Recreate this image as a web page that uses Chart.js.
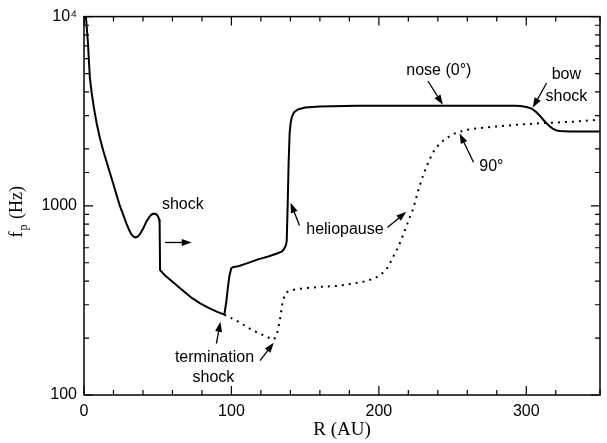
<!DOCTYPE html>
<html><head><meta charset="utf-8">
<script src="https://cdn.jsdelivr.net/npm/chart.js@4"></script>
<style>html,body{margin:0;padding:0;background:#fff}</style>
</head><body>
<canvas id="c" width="607" height="443"></canvas>
<script>
// ---- data (R in AU, f_p in Hz) ----
const noseR = [1.3, 2.0, 2.7, 3.3, 4.0, 5.2, 6.7, 8.5, 10.7, 13.0, 15.4, 17.5, 19.5, 21.8, 24.1, 26.5, 28.8, 30.6, 32.2, 33.6, 34.9,
  36.5, 38.2, 40.2, 42.3, 44.0, 45.6, 47.0, 48.3, 49.4, 50.3, 51.0, 51.3, 51.6,
  55.0, 61.0, 67.0, 73.1, 78.8, 84.5, 90.0, 95.2, 96.6, 97.6, 98.6, 99.9, 101.5, 104.6, 111.0, 118.0, 125.0, 131.4, 134.0, 135.5, 136.8, 137.5, 138.2, 138.8, 139.5,
  140.2, 141.0, 142.5, 145.0, 150.0, 160.0, 185.1, 240, 292.4, 296.0, 299.1, 301.5, 303.8, 306.5, 309.2, 311.5, 313.9, 315.9, 317.9, 320.0, 322.6, 329.3, 350];
const noseF = [10000, 8500, 7220, 5900, 4735, 3950, 3300, 2750, 2297, 1960, 1700, 1500, 1336, 1160, 1012, 900, 805, 745, 705, 688, 680,
  688, 713, 760, 825, 865, 897, 908, 908, 898, 876, 845, 805, 457,
  428, 391, 357, 326, 305, 289, 276, 266, 314, 370, 425, 468, 475, 479, 498, 521, 540, 561, 572, 588, 615, 648, 1049, 1700, 2440,
  2750, 2950, 3120, 3230, 3310, 3345, 3379, 3379, 3379, 3365, 3340, 3305, 3259, 3140, 2995, 2850, 2721, 2630, 2560, 2510, 2485, 2471, 2471];
const deg90R = [95.2, 104.6, 114.7, 123.4, 128.1, 129.5, 130.8, 132.8, 134.8, 136.8, 139.0, 141.5, 146.0, 151.6, 161.0, 171.7, 181.0, 191.8, 198.5,
  202.0, 205.2, 207.6, 209.9, 211.9, 213.9, 216.2, 218.6, 220.9, 223.3, 225.3, 227.4, 229.7, 232.1, 234.4, 236.8, 239.4, 242.1, 245.4, 248.8, 252.0, 255.5, 260.0, 265.6, 272.0, 279.0, 292.0, 305.8, 320.0, 332.7, 350];
const deg90F = [266, 244, 219, 204, 196, 200, 209, 247, 314, 346, 355, 359, 364, 368, 373, 377, 386, 400, 420,
  438, 462, 498, 541, 580, 625, 695, 776, 865, 964, 1100, 1257, 1420, 1600, 1760, 1918, 2050, 2163, 2260, 2353, 2420, 2471, 2520, 2560, 2595, 2624, 2675, 2721, 2755, 2786, 2854];
const xTickLabels = [0, 100, 200, 300];
const yTickLabels = [100, 1000, 10000];

// annotation texts and arrows (placed in data units)
const labelTexts = ['shock', 'termination', 'shock', 'heliopause', '90°', 'nose (0°)', 'bow', 'shock'];
const labelR = [67.0, 88.5, 87.8, 177.0, 276.3, 240.7, 327.2, 327.2];
const labelF = [1012, 158, 123, 749, 1619, 5214, 4911, 3767];
const arrowFromR = [55.0, 89.8, 119.4, 146.2, 205.8, 264.2, 233.3, 313.8];
const arrowFromF = [640, 187, 152, 786, 767, 1700, 4567, 4460];
const arrowToR = [73.1, 92.5, 128.7, 140.1, 218.6, 254.8, 243.4, 304.4];
const arrowToF = [640, 244, 189, 1037, 930, 2411, 3420, 3300];

const toPts = (xs, ys) => xs.map((x, i) => ({x: x, y: ys[i]}));

const SANS = '"Liberation Sans", Arial, sans-serif';
const SERIF = '"Liberation Serif", "Times New Roman", serif';

function arrow(ctx, x1, y1, x2, y2) {
  const ang = Math.atan2(y2 - y1, x2 - x1);
  const hl = 10, hw = 3.5;
  ctx.beginPath();
  ctx.moveTo(x1, y1);
  ctx.lineTo(x2 - Math.cos(ang) * hl * 0.8, y2 - Math.sin(ang) * hl * 0.8);
  ctx.lineWidth = 1.3;
  ctx.stroke();
  ctx.beginPath();
  ctx.moveTo(x2, y2);
  ctx.lineTo(x2 - Math.cos(ang) * hl - Math.sin(ang) * hw, y2 - Math.sin(ang) * hl + Math.cos(ang) * hw);
  ctx.lineTo(x2 - Math.cos(ang) * hl + Math.sin(ang) * hw, y2 - Math.sin(ang) * hl - Math.cos(ang) * hw);
  ctx.closePath();
  ctx.fill();
}

const decor = {
  id: 'decor',
  afterDraw(chart) {
    const ctx = chart.ctx, a = chart.chartArea;
    const xs = chart.scales.x, ys = chart.scales.y;
    ctx.save();
    ctx.strokeStyle = '#000'; ctx.fillStyle = '#000';
    // frame
    ctx.lineWidth = 1.5;
    ctx.strokeRect(a.left, a.top, a.right - a.left, a.bottom - a.top);
    // x ticks (inward, bottom and top)
    ctx.lineWidth = 1.2;
    xs.ticks.forEach(t => {
      if (t.value > 350) return;
      const px = xs.getPixelForValue(t.value);
      const L = (t.value % 100 === 0) ? 9 : 5;
      ctx.beginPath();
      ctx.moveTo(px, a.bottom); ctx.lineTo(px, a.bottom - L);
      ctx.moveTo(px, a.top); ctx.lineTo(px, a.top + L);
      ctx.stroke();
    });
    // y ticks (inward, left and right)
    ys.ticks.forEach(t => {
      const v = t.value;
      const py = ys.getPixelForValue(v);
      const major = yTickLabels.includes(v);
      const L = major ? 9 : 5;
      ctx.beginPath();
      ctx.moveTo(a.left, py); ctx.lineTo(a.left + L, py);
      ctx.moveTo(a.right, py); ctx.lineTo(a.right - L, py);
      ctx.stroke();
    });
    // annotation texts
    ctx.font = '16px ' + SANS;
    ctx.textAlign = 'center'; ctx.textBaseline = 'middle';
    labelTexts.forEach((s, i) => {
      ctx.fillText(s, xs.getPixelForValue(labelR[i]), ys.getPixelForValue(labelF[i]));
    });
    // arrows
    arrowFromR.forEach((r, i) => {
      arrow(ctx, xs.getPixelForValue(r), ys.getPixelForValue(arrowFromF[i]),
        xs.getPixelForValue(arrowToR[i]), ys.getPixelForValue(arrowToF[i]));
    });
    // y axis title f_p (Hz)
    ctx.save();
    ctx.translate(22, (a.top + a.bottom) / 2 + 6);
    ctx.rotate(-Math.PI / 2);
    ctx.textAlign = 'left'; ctx.textBaseline = 'alphabetic';
    ctx.font = '18px ' + SERIF;
    const wf = ctx.measureText('f').width;
    const wh = ctx.measureText(' (Hz)').width;
    ctx.font = '12px ' + SERIF;
    const wp = ctx.measureText('p').width;
    const tot = wf + wp + wh + 2;
    let x0 = -tot / 2;
    ctx.font = '18px ' + SERIF;
    ctx.fillText('f', x0, 0);
    ctx.font = '12px ' + SERIF;
    ctx.fillText('p', x0 + wf + 1, 5);
    ctx.font = '18px ' + SERIF;
    ctx.fillText(' (Hz)', x0 + wf + wp + 2, 0);
    ctx.restore();
    ctx.restore();
  }
};

new Chart(document.getElementById('c'), {
  type: 'line',
  data: {
    datasets: [
      {data: toPts(noseR, noseF), borderColor: '#000', borderWidth: 2, pointRadius: 0,
       tension: 0, borderJoinStyle: 'round', fill: false},
      {data: toPts(deg90R, deg90F), borderColor: '#000', borderWidth: 2, pointRadius: 0,
       borderDash: [2, 5], tension: 0, fill: false}
    ]
  },
  options: {
    responsive: false, animation: false, devicePixelRatio: 1,
    layout: {padding: {top: 13, right: 1, left: 0, bottom: 0}},
    plugins: {legend: {display: false}, tooltip: {enabled: false}},
    scales: {
      x: {
        type: 'linear', min: 0, max: 350,
        grid: {display: false, drawTicks: false}, border: {display: false},
        ticks: {
          stepSize: 20, padding: 7, maxRotation: 0, autoSkip: false,
          color: '#000', font: {family: SANS, size: 16},
          callback: v => xTickLabels.includes(v) ? String(v) : ''
        },
        title: {display: true, text: 'R (AU)', color: '#000', font: {family: SERIF, size: 19},
                padding: {top: 0, bottom: 2}},
        afterFit: s => { s.height = 48; }
      },
      y: {
        type: 'logarithmic', min: 100, max: 10000,
        grid: {display: false, drawTicks: false}, border: {display: false},
        ticks: {
          padding: 7, autoSkip: false, color: '#000', font: {family: SANS, size: 16},
          callback: v => v === 10000 ? '10\u2074' : (yTickLabels.includes(v) ? String(v) : '')
        },
        afterFit: s => { s.width = 84; }
      }
    }
  },
  plugins: [decor]
});
</script>
</body></html>
